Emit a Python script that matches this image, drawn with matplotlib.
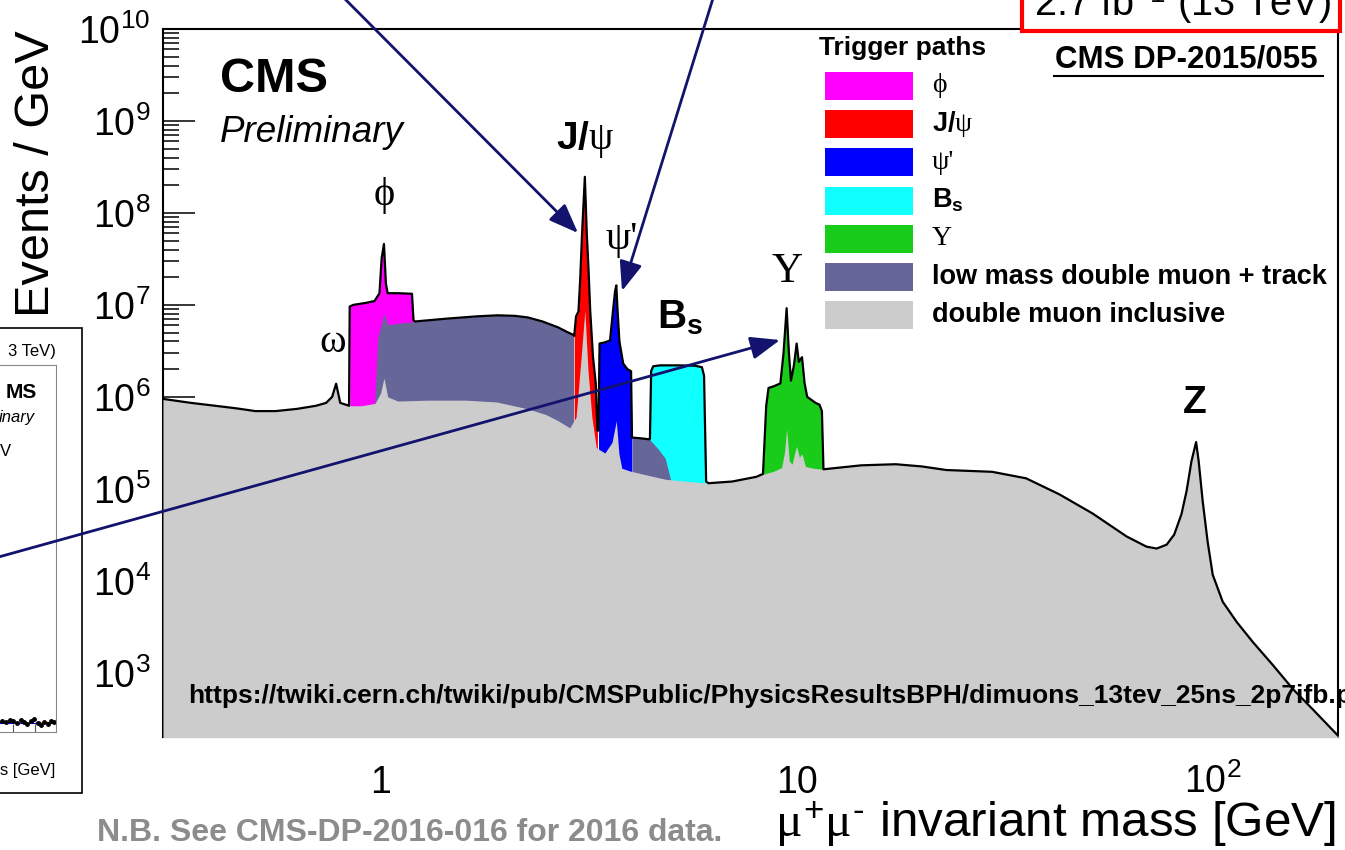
import numpy as np
import matplotlib
matplotlib.use('Agg')
import matplotlib.pyplot as plt
from matplotlib.patches import Rectangle, FancyArrowPatch
from matplotlib.lines import Line2D
from matplotlib.ticker import LogLocator, NullFormatter

# dimuon invariant mass spectrum (events / GeV)
incl_mass = [0.30, 0.35, 0.40, 0.45, 0.50, 0.56, 0.63, 0.70, 0.74, 0.765,
             0.782, 0.80, 0.84, 0.90, 0.97, 1.0, 1.019, 1.04, 1.1, 1.3,
             1.6, 1.9, 2.26, 2.5, 2.67, 2.85, 2.95, 3.03, 3.097, 3.15,
             3.22, 3.3, 3.46, 3.6, 3.686, 3.74, 3.8, 4.0, 4.4, 4.84,
             5.5, 6.14, 7.0, 8.0, 8.3, 8.8, 9.2, 9.35, 9.46, 9.6,
             9.75, 9.9, 10.0, 10.15, 10.3, 10.5, 11.0, 11.6, 14.3, 17.3,
             20.0, 22.9, 24.6, 29.5, 35.6, 42.8, 51.4, 62.1, 69.3, 73.3,
             77.5, 80.8, 84.1, 86.5, 88.9, 91.2, 92.5, 94.6, 97.2, 100,
             105.7, 114.2, 124.9, 139.5, 156, 174, 200]
incl_val = [9.5e5, 8.6e5, 8.0e5, 7.5e5, 7.0e5, 7.0e5, 7.4e5, 8.0e5, 8.6e5, 1.0e6,
            1.39e6, 8.6e5, 8.0e5, 8.0e5, 8.5e5, 1.1e6, 1.6e6, 1.0e6, 9.0e5, 9.2e5,
            9.2e5, 8.8e5, 7.4e5, 6.4e5, 5.5e5, 4.6e5, 6.0e5, 2.5e6, 8.7e6, 2.0e6,
            6.0e5, 2.8e5, 2.45e5, 3.2e5, 5.5e5, 2.4e5, 1.67e5, 1.55e5, 1.4e5, 1.27e5,
            1.2e5, 1.15e5, 1.2e5, 1.35e5, 1.44e5, 1.55e5, 1.7e5, 2.5e5, 4.47e5, 2.0e5,
            1.85e5, 2.5e5, 2.9e5, 2.2e5, 2.4e5, 1.75e5, 1.67e5, 1.63e5, 1.8e5, 1.85e5,
            1.75e5, 1.6e5, 1.58e5, 1.53e5, 1.3e5, 8.7e4, 5.4e4, 3.03e4, 2.35e4, 2.24e4,
            2.47e4, 3.18e4, 5.3e4, 9.4e4, 2.0e5, 3.22e5, 2.0e5, 7.3e4, 2.67e4, 1.16e4,
            5.9e3, 3.56e3, 2.15e3, 1.21e3, 661, 399, 207]

phi_mass = [0.843, 0.86, 0.92, 0.967, 0.994, 1.006, 1.019, 1.03, 1.04, 1.1, 1.19, 1.2]
phi_val = [9.6e6, 1.0e7, 1.05e7, 1.1e7, 1.34e7, 3.2e7, 4.6e7, 1.7e7, 1.34e7, 1.34e7, 1.32e7, 6.8e6]

lowa_mass = [0.967, 0.985, 1.0, 1.019, 1.04, 1.1, 1.21, 1.45, 1.7, 1.91, 2.1, 2.26, 2.45, 2.67, 2.8, 2.91]
lowa_val = [8e5, 4.5e6, 5.8e6, 8.0e6, 6.1e6, 6.3e6, 6.6e6, 7.1e6, 7.5e6, 7.7e6, 7.6e6, 7.3e6, 6.6e6, 5.7e6, 5.1e6, 4.7e6]

jpsi_mass = [2.92, 2.95, 2.99, 3.02, 3.05, 3.097, 3.13, 3.16, 3.19, 3.24, 3.29, 3.32]
jpsi_val = [4.6e6, 7.5e6, 8.5e6, 2.0e7, 6e7, 2.47e8, 6e7, 2.5e7, 8.7e6, 2.7e6, 1.4e6, 4.3e5]

psi2_mass = [3.34, 3.36, 3.45, 3.56, 3.62, 3.66, 3.686, 3.71, 3.75, 3.83, 3.92, 4.0, 4.02]
psi2_val = [4.3e5, 3.8e6, 3.9e6, 4.1e6, 8.7e6, 1.4e7, 1.63e7, 9e6, 4e6, 2.3e6, 2.0e6, 1.9e6, 3.6e5]

lowb_mass = [4.03, 4.2, 4.43, 4.65, 4.83, 4.97]
lowb_val = [3.6e5, 3.55e5, 3.45e5, 2.7e5, 2.15e5, 1.3e5]

bs_mass = [4.44, 4.47, 4.52, 4.7, 5.2, 5.7, 5.92, 5.99, 6.06]
bs_val = [3.5e5, 1.9e6, 2.15e6, 2.2e6, 2.2e6, 2.18e6, 2.1e6, 1.7e6, 1.2e5]

ups_mass = [8.3, 8.45, 8.56, 8.8, 9.14, 9.3, 9.46, 9.58, 9.69, 9.85, 10.0,
            10.12, 10.3, 10.45, 10.6, 11.1, 11.35, 11.5, 11.6]
ups_val = [1.45e5, 8e5, 1.25e6, 1.3e6, 1.4e6, 3.0e6, 9.2e6, 3.0e6, 1.5e6, 2.2e6, 3.8e6,
           2.4e6, 2.7e6, 1.4e6, 1.0e6, 8.6e5, 8.2e5, 7e5, 1.63e5]

legend_labels = ['ϕ', r'$\mathbf{J/}\psi$', "ψ'", r'$\mathbf{B_{s}}$', 'Υ',
                 'low mass double muon + track', 'double muon inclusive']

# left-hand (cut off) ratio panel
inset_x = [2, 6, 10, 13, 17, 21, 24, 27, 31, 34, 38, 41, 44, 48, 51, 54]
inset_y = [11, 10, 12, 11, 9, 12, 10, 8, 11, 13, 9, 7, 10, 8, 11, 10]

W, H = 1345, 850


def fx(x):
    return x / W


def fy(y):
    return 1 - y / H


def seg(m, v, lo, hi):
    m = np.asarray(m)
    v = np.asarray(v)
    keep = (m >= lo) & (m <= hi)
    return m[keep], v[keep]


plt.rcParams['font.family'] = 'Liberation Sans'
plt.rcParams['mathtext.fontset'] = 'custom'
plt.rcParams['mathtext.rm'] = 'Liberation Sans'
plt.rcParams['mathtext.it'] = 'Liberation Serif'
plt.rcParams['mathtext.bf'] = 'Liberation Sans:bold'

c_phi, c_jpsi, c_psi2, c_bs, c_ups = '#ff00ff', '#ff0000', '#0000ff', '#10ffff', '#19cc19'
c_low, c_incl = '#666699', '#cccccc'
serif = ['Liberation Serif', 'DejaVu Serif']

fig = plt.figure(figsize=(13.45, 8.5), dpi=100)
ax = fig.add_axes([fx(163), fy(737), 1175 / W, 708 / H])
ax.set_xscale('log')
ax.set_yscale('log')

ax.fill_between(phi_mass, 1, phi_val, color=c_phi, lw=0, zorder=2)
ax.fill_between(bs_mass, 1, bs_val, color=c_bs, lw=0, zorder=2)
ax.fill_between(lowa_mass, 1, lowa_val, color=c_low, lw=0, zorder=3)
ax.fill_between(lowb_mass, 1, lowb_val, color=c_low, lw=0, zorder=3)
ax.fill_between(jpsi_mass, 1, jpsi_val, color=c_jpsi, lw=0, zorder=3)
ax.fill_between(psi2_mass, 1, psi2_val, color=c_psi2, lw=0, zorder=3)
ax.fill_between(ups_mass, 1, ups_val, color=c_ups, lw=0, zorder=3)
ax.fill_between(incl_mass, 1, incl_val, color=c_incl, lw=0, zorder=4)

# outer envelope drawn as one black line
parts = [seg(incl_mass, incl_val, 0, 0.841),
         seg(phi_mass, phi_val, 0, 99),
         seg(lowa_mass, lowa_val, 1.205, 99),
         seg(jpsi_mass, jpsi_val, 0, 99),
         seg(psi2_mass, psi2_val, 0, 99),
         seg(lowb_mass, lowb_val, 0, 4.435),
         seg(bs_mass, bs_val, 0, 99),
         seg(incl_mass, incl_val, 6.07, 8.29),
         seg(ups_mass, ups_val, 0, 99),
         seg(incl_mass, incl_val, 11.61, 300)]
env_m = np.concatenate([p[0] for p in parts])
env_v = np.concatenate([p[1] for p in parts])
ax.plot(env_m, env_v, color='black', lw=1.6, zorder=5)

ax.set_xlim(0.3, 200)
ax.set_ylim(200, 1e10)

ax.yaxis.set_major_locator(LogLocator(base=10, numticks=20))
ax.yaxis.set_minor_locator(LogLocator(base=10, subs=np.arange(2, 10), numticks=100))
ax.yaxis.set_minor_formatter(NullFormatter())
ax.set_xticks([1, 10, 100], ['1', '10', r'$\mathdefault{10^{2}}$'])
ax.xaxis.set_minor_locator(LogLocator(base=10, subs=np.arange(2, 10), numticks=100))
ax.xaxis.set_minor_formatter(NullFormatter())
ax.tick_params(which='both', direction='in', width=1.1, top=False, right=False,
               labelsize=27, color='black')
ax.tick_params(axis='y', which='major', length=23, pad=9)
ax.tick_params(axis='y', which='minor', length=11.5)
ax.tick_params(axis='x', which='major', length=19, pad=40)
ax.tick_params(axis='x', which='minor', length=11)
for lab in ax.get_xticklabels():
    lab.set_verticalalignment('baseline')
for s in ax.spines.values():
    s.set_linewidth(1.5)

# axis titles
fig.text(fx(37), fy(174), 'Events / GeV', rotation=90, ha='center', va='center', fontsize=35)
fig.text(fx(1336), fy(837), r'$\mu^{+}\mu^{\text{-}}$ invariant mass [GeV]', ha='right',
         va='baseline', fontsize=35.6)

# plot labels
fig.text(fx(220), fy(80), 'CMS', fontsize=35, fontweight='bold', va='center')
fig.text(fx(220), fy(133), 'Preliminary', fontsize=26.5, fontstyle='italic', va='center')
fig.text(fx(384), fy(195), 'ϕ', family=serif, fontsize=29, ha='center', va='center')
fig.text(fx(333), fy(342), 'ω', family=serif, fontsize=29, ha='center', va='center')
fig.text(fx(585), fy(140), r'$\mathbf{J/}\psi$', fontsize=28, ha='center', va='center')
fig.text(fx(622), fy(240), "ψ'", family=serif, fontsize=29, ha='center', va='center')
fig.text(fx(680), fy(318), r'$\mathbf{B_{s}}$', fontsize=29, ha='center', va='center')
fig.text(fx(787), fy(272), 'Υ', family=serif, fontsize=31, ha='center', va='center')
fig.text(fx(1195), fy(403), 'Z', fontsize=28, fontweight='bold', ha='center', va='center')
ax.text(fx(188), fy(703), 'https://twiki.cern.ch/twiki/pub/CMSPublic/PhysicsResultsBPH/'
        'dimuons_13tev_25ns_2p7ifb.png', transform=fig.transFigure, fontsize=19,
        fontweight='bold', va='baseline', zorder=4.5, clip_on=False)

# legend
fig.text(fx(819), fy(48), 'Trigger paths', fontsize=19, fontweight='bold', va='center')
legend_colors = [c_phi, c_jpsi, c_psi2, c_bs, c_ups, c_low, c_incl]
legend_fonts = [serif, None, serif, None, serif, None, None]
for i, (lab, col, fam) in enumerate(zip(legend_labels, legend_colors, legend_fonts)):
    cy = 86 + 38.2 * i
    fig.add_artist(Rectangle((fx(825), fy(cy + 14)), 88 / W, 28 / H, transform=fig.transFigure,
                             facecolor=col, edgecolor='none'))
    if fam:
        fig.text(fx(932), fy(cy), lab, family=fam, fontsize=20, va='center')
    else:
        fig.text(fx(932), fy(cy), lab, fontsize=19.5, fontweight='bold', va='center')

fig.text(fx(1055), fy(59), 'CMS DP-2015/055', fontsize=22.5, fontweight='bold', va='center')
fig.add_artist(Line2D([fx(1054), fx(1323)], [fy(76), fy(76)], color='black', lw=1.5,
                      transform=fig.transFigure))

# red luminosity box (cut at the top of the slide)
fig.add_artist(Rectangle((fx(1022), fy(31)), 318 / W, 60 / H, transform=fig.transFigure,
                         facecolor='white', edgecolor='#ff0000', lw=3, zorder=3))
fig.text(fx(1034), fy(16), r'2.7 fb$^{-1}$ (13 TeV)', fontsize=28.5, va='baseline', zorder=4)

# cut-off panel on the left
iax = fig.add_axes([fx(-250), fy(732), 306 / W, 367 / H])
iax.set_xlim(-250, 56)
iax.set_ylim(0, 367)
iax.axhline(10, color='red', ls='--', lw=1)
iax.axhline(9, color='blue', lw=0.8)
iax.plot(inset_x, inset_y, 'o', ms=2.5, color='black')
iax.set_xticks([13, 35])
iax.set_xticklabels([])
iax.set_yticks([])
iax.tick_params(direction='in', length=6, width=0.8, color='#555555')
for s in iax.spines.values():
    s.set_color('#888888')
    s.set_linewidth(0.8)
fig.add_artist(Rectangle((fx(-300), fy(793)), 382 / W, 465 / H, transform=fig.transFigure,
                         facecolor='none', edgecolor='black', lw=1.2))
fig.text(fx(56), fy(352), '3 TeV)', fontsize=12, ha='right', va='center')
fig.text(fx(37), fy(392), 'MS', fontsize=15, fontweight='bold', ha='right', va='center')
fig.text(fx(35), fy(418), 'inary', fontsize=12, fontstyle='italic', ha='right', va='center')
fig.text(fx(0), fy(452), 'V', fontsize=12, ha='left', va='center')
fig.text(fx(55), fy(770), 's [GeV]', fontsize=12, ha='right', va='center')

fig.text(fx(97), fy(841), 'N.B. See CMS-DP-2016-016 for 2016 data.', fontsize=23,
         fontweight='bold', color='#8c8c8c', va='baseline')

# arrows from the slide
arrows = [((338, -8), (578, 233)), ((715, -8), (622, 291)), ((-5, 558), (780, 340))]
for (x0, y0), (x1, y1) in arrows:
    fig.add_artist(FancyArrowPatch((fx(x0), fy(y0)), (fx(x1), fy(y1)), transform=fig.transFigure,
                                   arrowstyle='-|>,head_length=0.9,head_width=0.35',
                                   mutation_scale=20, color='#13136e', lw=2, zorder=6,
                                   shrinkA=0, shrinkB=0))

fig.savefig('out.png', dpi=100)
plt.close(fig)
